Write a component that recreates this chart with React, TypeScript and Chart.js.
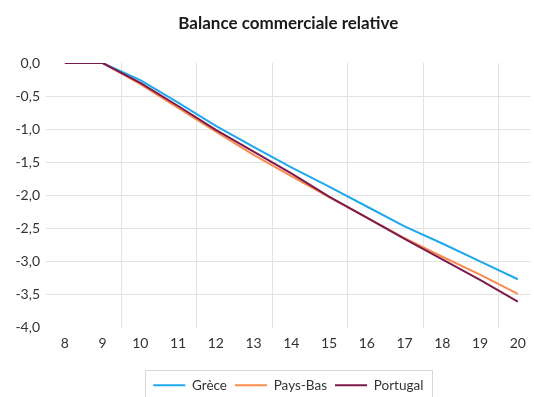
import React, { useEffect, useRef } from 'react';
import { Chart, registerables } from 'chart.js';

Chart.register(...registerables);

const categories = [8, 9, 10, 11, 12, 13, 14, 15, 16, 17, 18, 19, 20];
const grece = [0, 0, -0.26, -0.6, -0.95, -1.27, -1.58, -1.87, -2.17, -2.47, -2.73, -3.0, -3.27];
const paysBas = [0, 0, -0.32, -0.68, -1.04, -1.39, -1.71, -2.03, -2.34, -2.65, -2.93, -3.2, -3.49];
const portugal = [0, 0, -0.3, -0.65, -1.01, -1.34, -1.67, -2.02, -2.34, -2.66, -2.97, -3.28, -3.61];
const seriesNames = ['Grèce', 'Pays-Bas', 'Portugal'];
const seriesColors = ['#1fa8ec', '#fb8a4e', '#7d1a4c'];
const yMin = -4;
const yMax = 0;
const yStep = 0.5;
const title = 'Balance commerciale relative';

const FONT = 'Lato, "Open Sans", sans-serif';
const TEXT = '#333333';
const GRID = '#e3e3e3';

const legendBoxPlugin = {
  id: 'legendBox',
  afterDraw(chart: any) {
    const lg = chart.legend;
    if (!lg || !lg.legendHitBoxes || !lg.legendHitBoxes.length) return;
    const boxes = lg.legendHitBoxes;
    const left = Math.min(...boxes.map((b: any) => b.left)) - 8;
    const right = Math.max(...boxes.map((b: any) => b.left + b.width)) + 9;
    const top = Math.min(...boxes.map((b: any) => b.top)) - 9;
    const ctx = chart.ctx;
    ctx.save();
    ctx.strokeStyle = '#d9d9d9';
    ctx.lineWidth = 1;
    ctx.strokeRect(Math.round(left) + 0.5, Math.round(top) + 0.5, Math.round(right - left), 60);
    ctx.restore();
  },
};

export default function App() {
  const ref = useRef<HTMLCanvasElement | null>(null);
  useEffect(() => {
    if (!ref.current) return;
    const data = [grece, paysBas, portugal];
    const chart = new Chart(ref.current, {
      type: 'line',
      data: {
        datasets: data.map((vals, i) => ({
          label: seriesNames[i],
          data: categories.map((c, j) => ({ x: c, y: vals[j] })),
          borderColor: seriesColors[i],
          backgroundColor: seriesColors[i],
          borderWidth: 2,
          pointRadius: 0,
          tension: 0,
          fill: false,
          order: 2 - i,
        })),
      },
      options: {
        animation: false,
        responsive: false,
        layout: { padding: { top: 0, right: 0, bottom: -5, left: 0 } },
        scales: {
          x: {
            type: 'linear',
            min: 7.5,
            max: 20.34,
            afterBuildTicks: (s: any) => {
              s.ticks = categories.map((v) => ({ value: v }));
            },
            afterFit: (s: any) => {
              s.height = 43;
            },
            ticks: {
              autoSkip: false,
              maxRotation: 0,
              padding: 8,
              color: TEXT,
              font: { family: FONT, size: 14 },
              callback: (v: any) => String(v),
            },
            grid: {
              offset: true,
              drawTicks: false,
              color: (ctx: any) => (ctx.index > 0 && ctx.index % 2 === 0 ? GRID : 'rgba(0,0,0,0)'),
            },
            border: { display: false },
          },
          y: {
            type: 'linear',
            min: yMin,
            max: yMax,
            afterFit: (s: any) => {
              s.width = 46;
            },
            ticks: {
              stepSize: yStep,
              padding: 6,
              color: TEXT,
              font: { family: FONT, size: 14 },
              callback: (v: any) => Number(v).toFixed(1).replace('.', ','),
            },
            grid: {
              drawTicks: false,
              color: (ctx: any) =>
                ctx.tick && (ctx.tick.value === yMin || ctx.tick.value === yMax) ? 'rgba(0,0,0,0)' : GRID,
            },
            border: { display: false },
          },
        },
        plugins: {
          title: {
            display: true,
            text: title,
            fullSize: false,
            color: '#1a1a1a',
            font: { family: FONT, size: 17, weight: 'bold' },
            padding: { top: 13, bottom: 29.6 },
          },
          legend: {
            position: 'bottom',
            fullSize: false,
            labels: {
              boxWidth: 32,
              boxHeight: 2,
              padding: 8,
              color: TEXT,
              font: { family: FONT, size: 13.5 },
              sort: (a: any, b: any) => a.datasetIndex - b.datasetIndex,
              generateLabels: (c: any) =>
                (Chart.defaults as any).plugins.legend.labels
                  .generateLabels(c)
                  .map((l: any) => ({ ...l, lineWidth: 0 })),
            },
          },
          tooltip: { enabled: false },
        },
      },
      plugins: [legendBoxPlugin],
    } as any);
    return () => chart.destroy();
  }, []);
  return (
    <div style={{ position: 'absolute', left: 0, top: 0, width: 534, height: 397, overflow: 'hidden', background: '#fff' }}>
      <canvas ref={ref} width={534} height={397} style={{ display: 'block' }} />
    </div>
  );
}
